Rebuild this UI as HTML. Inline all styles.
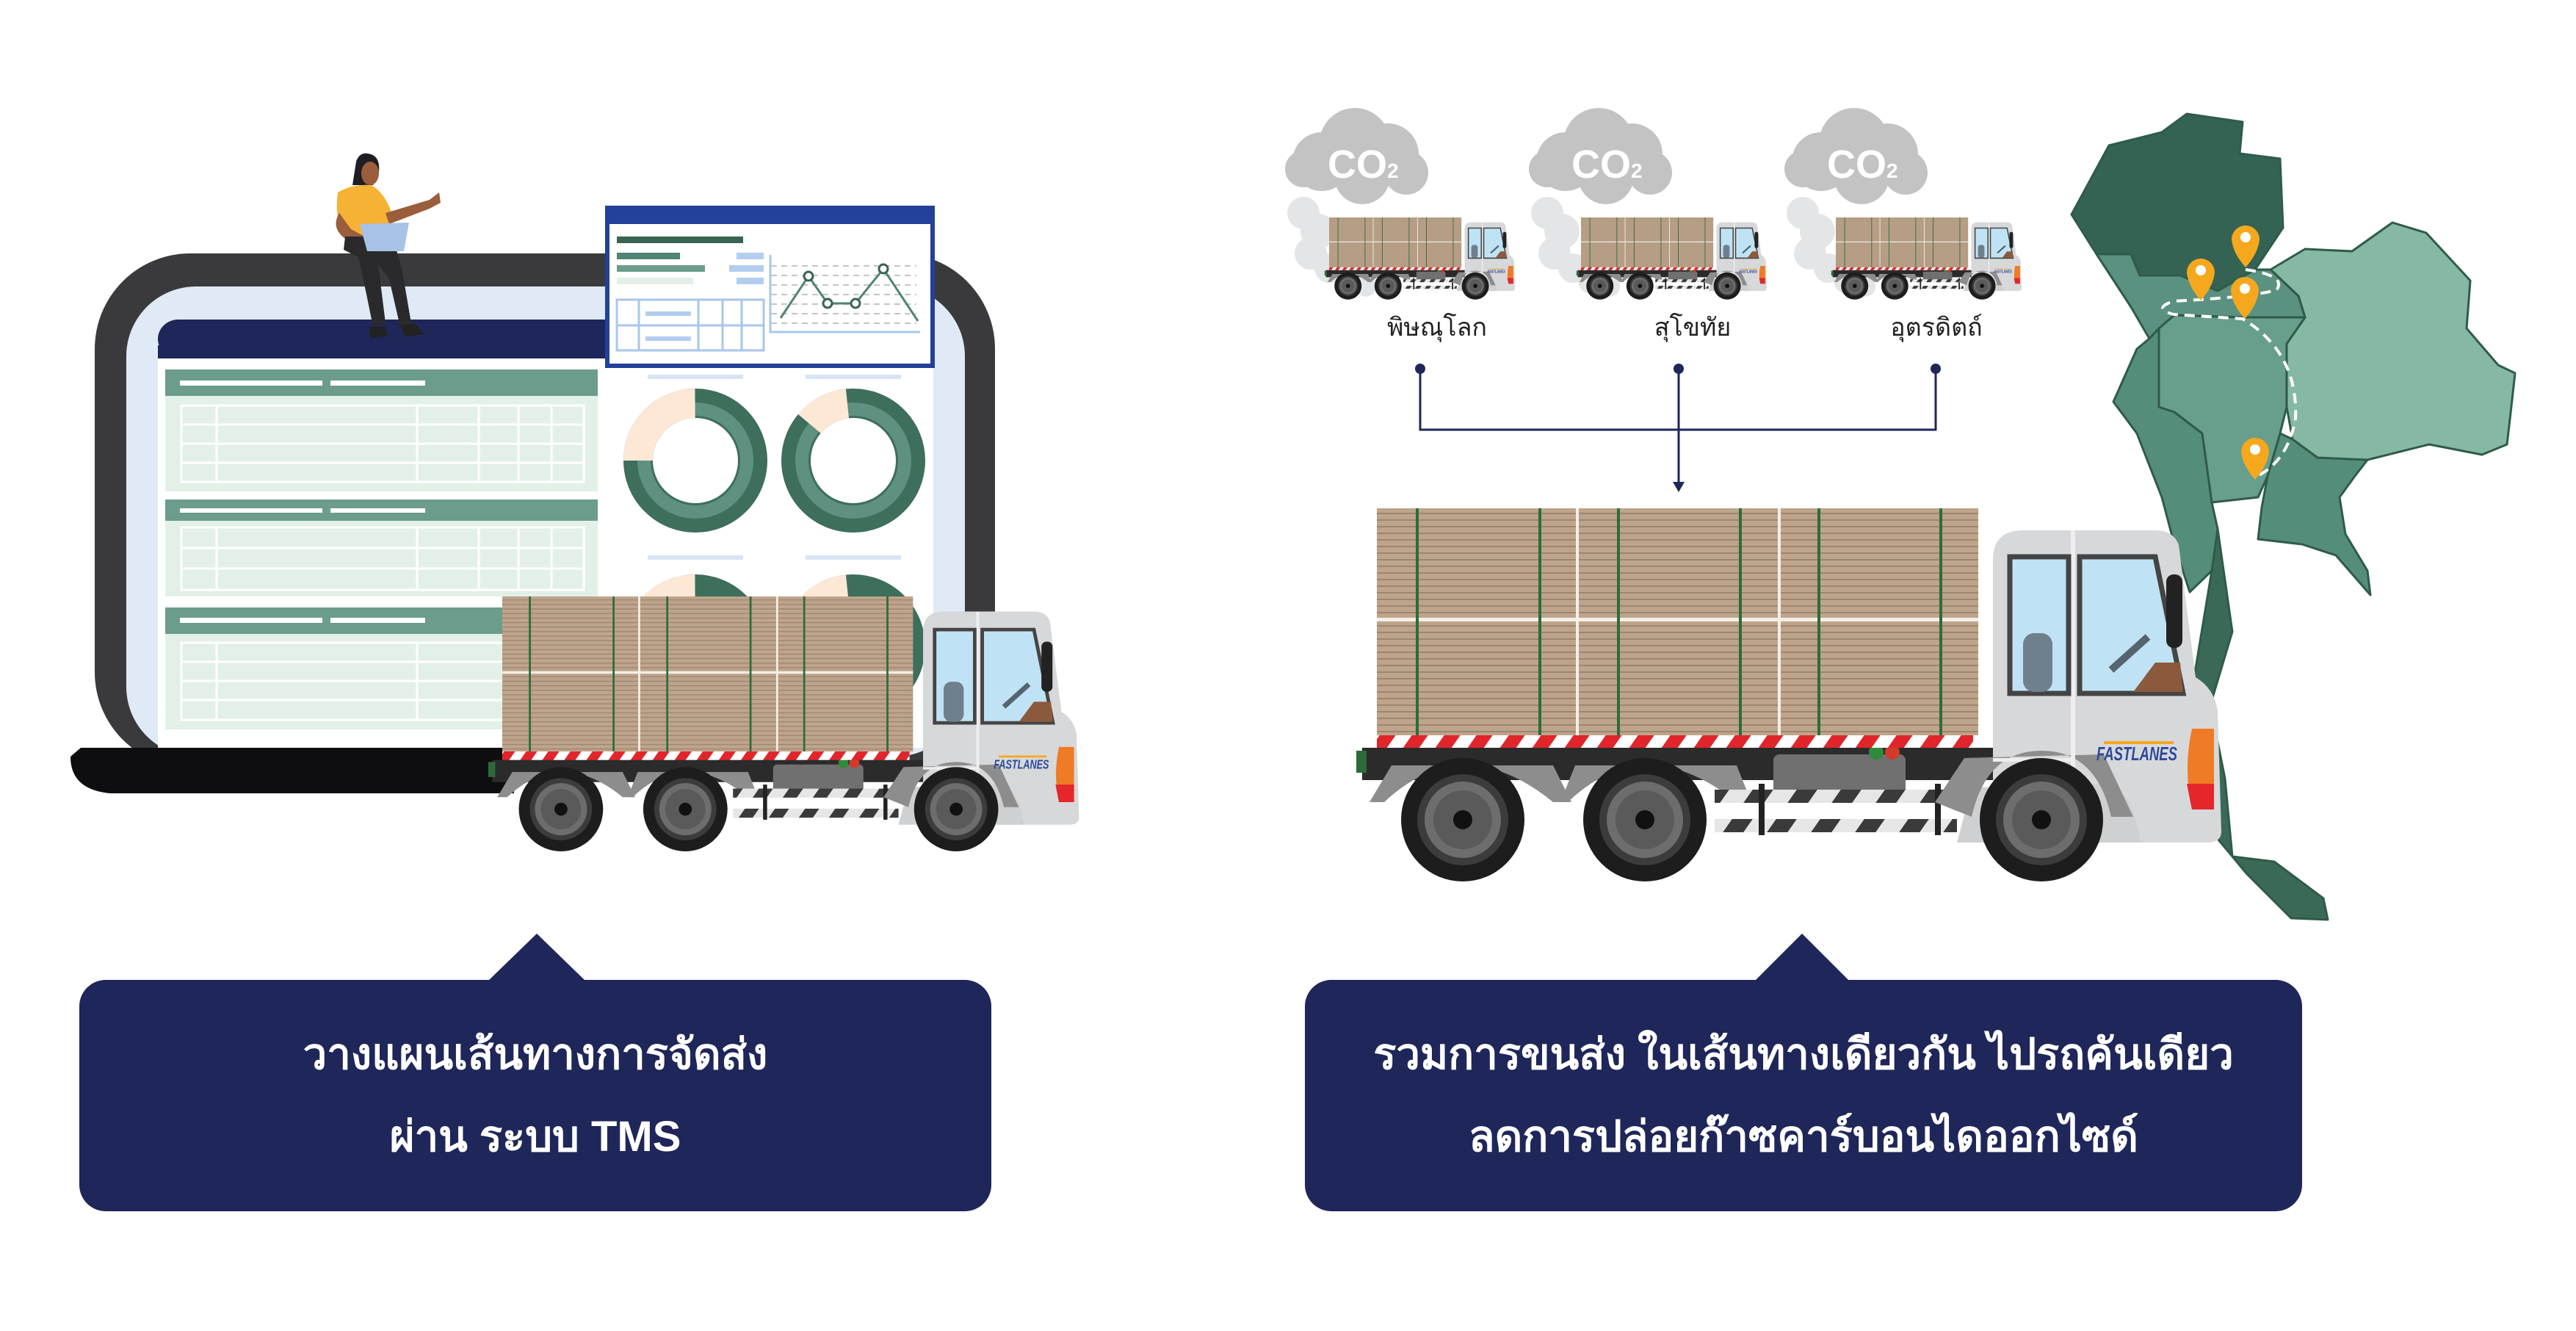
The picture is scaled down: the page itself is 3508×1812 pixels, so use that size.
<!DOCTYPE html>
<html><head><meta charset="utf-8">
<style>
html,body{margin:0;padding:0;background:#fff;}
svg{display:block;}
text{font-family:"Liberation Sans","Noto Sans CJK SC",sans-serif;}
</style></head>
<body>
<svg width="3508" height="1812" viewBox="0 0 3508 1812" xmlns="http://www.w3.org/2000/svg">
<defs>
 <pattern id="wood" patternUnits="userSpaceOnUse" width="20" height="9">
  <rect width="20" height="9" fill="#bda48b"/>
  <rect y="6" width="20" height="2" fill="#9d8670"/>
 </pattern>
 <pattern id="rw" patternUnits="userSpaceOnUse" width="44" height="20" patternTransform="skewX(-35)">
  <rect width="44" height="20" fill="#fff"/>
  <rect width="22" height="20" fill="#e0262b"/>
 </pattern>
 <pattern id="step" patternUnits="userSpaceOnUse" width="60" height="20" patternTransform="skewX(-35)">
  <rect width="60" height="20" fill="#e6e6e6"/>
  <rect width="28" height="20" fill="#3a3a3a"/>
 </pattern>
 <g id="wheel">
  <circle r="84" fill="#1d1d1d"/>
  <circle r="62" fill="#3c3c3c"/>
  <circle r="52" fill="#6d6d6d"/>
  <circle r="40" fill="#5a5a5a"/>
  <circle r="13" fill="#111"/>
 </g>
 <g id="truck">
  <rect x="-20" y="326" width="900" height="44" fill="#2b2b2b"/>
  <rect x="-28" y="330" width="14" height="30" fill="#2e6b3a"/>
  <path d="M-10,400 L20,350 L240,350 L265,400 L240,400 Q117,300 10,400 Z" fill="#8d8d8d"/>
  <path d="M250,400 L270,350 L490,350 L510,400 L490,400 Q365,300 260,400 Z" fill="#8d8d8d"/>
  <rect x="540" y="335" width="180" height="58" rx="8" fill="#707070"/>
  <circle cx="680" cy="332" r="10" fill="#2e8b3a"/><circle cx="702" cy="332" r="10" fill="#d23a2a"/>
  <rect x="460" y="383" width="330" height="18" fill="url(#step)"/>
  <rect x="460" y="423" width="330" height="18" fill="url(#step)"/>
  <rect x="520" y="375" width="8" height="70" fill="#222"/><rect x="760" y="375" width="8" height="70" fill="#222"/>
  <rect x="0" y="0" width="819" height="309" fill="url(#wood)"/>
  <rect x="0" y="149" width="819" height="5" fill="#f4efe8"/>
  <rect x="271" y="0" width="4" height="309" fill="#f4efe8"/>
  <rect x="546" y="0" width="4" height="309" fill="#f4efe8"/>
  <g fill="#2e6b3a">
   <rect x="53" y="0" width="4" height="309"/><rect x="220" y="0" width="4" height="309"/>
   <rect x="327" y="0" width="4" height="309"/><rect x="493" y="0" width="4" height="309"/>
   <rect x="600" y="0" width="4" height="309"/><rect x="766" y="0" width="4" height="309"/>
  </g>
  <rect x="0" y="309" width="812" height="17" fill="url(#rw)"/>
  <path d="M839,455 L839,70 Q839,30 880,30 L1060,30 Q1085,30 1092,50 L1115,230 Q1140,245 1145,275 L1150,440 Q1150,455 1130,455 Z" fill="#d7d8da"/>
  <path d="M790,455 L810,380 L1000,375 Q1030,390 1040,455 Z" fill="#cfd0d2"/>
  <path d="M760,400 L800,340 L990,335 L1030,420 L1000,420 Q980,330 905,330 Q830,330 810,420 Z" fill="#8d8d8d"/>
  <rect x="945" y="30" width="6" height="330" fill="#eeeeee"/>
  <rect x="839" y="340" width="106" height="5" fill="#eee"/>
  <path d="M862,66 L942,66 L942,252 L862,252 Z" fill="#bfe3f5" stroke="#444" stroke-width="7"/>
  <path d="M957,66 L1060,66 L1098,252 L957,252 Z" fill="#bfe3f5" stroke="#444" stroke-width="7"/>
  <rect x="880" y="170" width="40" height="80" rx="15" fill="#6f7f8c"/>
  <path d="M1030,250 L1060,210 L1094,210 L1098,250 Z" fill="#8b5a3c"/>
  <line x1="1000" y1="220" x2="1050" y2="175" stroke="#55646e" stroke-width="10"/>
  <rect x="1075" y="90" width="22" height="100" rx="10" fill="#222"/>
  <path d="M1110,300 L1140,300 L1140,410 L1110,410 Q1098,355 1110,300 Z" fill="#ef7b26"/>
  <path d="M1103,375 L1140,375 L1140,410 L1110,410 Z" fill="#e5262a"/>
  <rect x="990" y="317" width="95" height="4" fill="#f5a81e"/>
  <text x="980" y="343" font-size="26" font-style="italic" font-weight="bold" fill="#2d4a9a" textLength="110" lengthAdjust="spacingAndGlyphs">FASTLANES</text>
  <use href="#wheel" x="117" y="424"/>
  <use href="#wheel" x="365" y="424"/>
  <use href="#wheel" x="905" y="424"/>
 </g>
 <g id="cloud" fill="#c3c3c4">
  <circle cx="-45" cy="10" r="40"/><circle cx="0" cy="-15" r="48"/><circle cx="45" cy="0" r="42"/>
  <circle cx="70" cy="25" r="30"/><circle cx="10" cy="30" r="38"/><circle cx="-70" cy="20" r="25"/>
 </g>
 <g id="smoke" fill="#e4e5e6">
  <circle cx="0" cy="0" r="22"/><circle cx="20" cy="25" r="24"/><circle cx="10" cy="55" r="22"/>
  <circle cx="35" cy="75" r="20"/><circle cx="60" cy="92" r="18"/><circle cx="85" cy="100" r="14"/>
 </g>
</defs>

<rect x="129" y="345" width="1226" height="700" rx="130" fill="#3a3a3c"/>
<rect x="172" y="390" width="1142" height="640" rx="95" fill="#dfeaf6"/>
<rect x="215" y="435" width="1056" height="53" rx="28" fill="#1f2659"/>
<rect x="215" y="470" width="1056" height="18" fill="#1f2659"/>
<rect x="215" y="488" width="1056" height="530" fill="#fff"/>
<path d="M110,1018 L700,1018 L700,1080 L150,1080 Q96,1075 96,1030 Z" fill="#0e0e10"/>

<g>
 <rect x="225" y="503" width="589" height="36" fill="#6b9c8c"/>
 <rect x="225" y="539" width="589" height="130" fill="#e3f0e8"/>
 <rect x="245" y="518" width="194" height="7" fill="#fff"/><rect x="450" y="518" width="129" height="7" fill="#fff"/>
 <g stroke="#fff" stroke-width="3" fill="none">
  <rect x="247" y="552" width="548" height="104"/>
  <line x1="295" y1="552" x2="295" y2="656"/><line x1="568" y1="552" x2="568" y2="656"/><line x1="652" y1="552" x2="652" y2="656"/><line x1="706" y1="552" x2="706" y2="656"/><line x1="751" y1="552" x2="751" y2="656"/>
  <line x1="247" y1="578" x2="795" y2="578"/><line x1="247" y1="604" x2="795" y2="604"/><line x1="247" y1="630" x2="795" y2="630"/>
 </g>
 <rect x="225" y="680" width="589" height="29" fill="#6b9c8c"/>
 <rect x="225" y="709" width="589" height="103" fill="#e3f0e8"/>
 <rect x="245" y="692" width="194" height="6" fill="#fff"/><rect x="450" y="692" width="129" height="6" fill="#fff"/>
 <g stroke="#fff" stroke-width="3" fill="none">
  <rect x="247" y="718" width="548" height="85"/>
  <line x1="295" y1="718" x2="295" y2="803"/><line x1="568" y1="718" x2="568" y2="803"/><line x1="652" y1="718" x2="652" y2="803"/><line x1="706" y1="718" x2="706" y2="803"/><line x1="751" y1="718" x2="751" y2="803"/>
  <line x1="247" y1="746" x2="795" y2="746"/><line x1="247" y1="774" x2="795" y2="774"/>
 </g>
 <rect x="225" y="827" width="589" height="36" fill="#6b9c8c"/>
 <rect x="225" y="863" width="589" height="130" fill="#e3f0e8"/>
 <rect x="245" y="841" width="194" height="7" fill="#fff"/><rect x="450" y="841" width="129" height="7" fill="#fff"/>
 <g stroke="#fff" stroke-width="3" fill="none">
  <rect x="247" y="875" width="548" height="105"/>
  <line x1="295" y1="875" x2="295" y2="980"/><line x1="568" y1="875" x2="568" y2="980"/>
  <line x1="247" y1="901" x2="795" y2="901"/><line x1="247" y1="927" x2="795" y2="927"/><line x1="247" y1="953" x2="795" y2="953"/>
 </g>
</g>
<g fill="none">
 <rect x="882" y="510" width="130" height="6" fill="#d7e4f3"/><rect x="1097" y="510" width="130" height="6" fill="#d7e4f3"/>
 <rect x="882" y="756" width="130" height="6" fill="#d7e4f3"/><rect x="1097" y="756" width="130" height="6" fill="#d7e4f3"/>
 <g transform="translate(947,627)">
  <circle r="78" stroke="#3e6e5c" stroke-width="40"/>
  <circle r="70" stroke="#5e917f" stroke-width="18"/>
  <circle r="78" stroke="#fde8d6" stroke-width="40" stroke-dasharray="122 1000" transform="rotate(180)"/>
 </g>
 <g transform="translate(1162,627)">
  <circle r="78" stroke="#3e6e5c" stroke-width="40"/>
  <circle r="70" stroke="#5e917f" stroke-width="18"/>
  <circle r="78" stroke="#fde8d6" stroke-width="40" stroke-dasharray="60 1000" transform="rotate(220)"/>
 </g>
 <g transform="translate(947,880)">
  <circle r="78" stroke="#3e6e5c" stroke-width="40"/>
  <circle r="78" stroke="#fde8d6" stroke-width="40" stroke-dasharray="122 1000" transform="rotate(180)"/>
 </g>
 <g transform="translate(1162,880)">
  <circle r="78" stroke="#3e6e5c" stroke-width="40"/>
  <circle r="78" stroke="#fde8d6" stroke-width="40" stroke-dasharray="60 1000" transform="rotate(220)"/>
 </g>
</g>
<rect x="827" y="283" width="443" height="215" fill="#fff" stroke="#23409a" stroke-width="6"/>
<rect x="824" y="280" width="449" height="25" rx="5" fill="#23409a"/>
<rect x="840" y="322" width="172" height="9" fill="#386452"/>
<rect x="840" y="344" width="86" height="9" fill="#4f8572"/>
<rect x="840" y="361" width="120" height="9" fill="#6b9c8c"/>
<rect x="840" y="378" width="104" height="9" fill="#e3f0e8"/>
<rect x="1003" y="344" width="37" height="9" fill="#b3cdee"/>
<rect x="993" y="361" width="47" height="9" fill="#b3cdee"/>
<rect x="1003" y="378" width="37" height="9" fill="#b3cdee"/>
<g stroke="#a9c6ec" stroke-width="3" fill="none">
 <rect x="840" y="408" width="200" height="69"/>
 <line x1="870" y1="408" x2="870" y2="477"/><line x1="951" y1="408" x2="951" y2="477"/><line x1="984" y1="408" x2="984" y2="477"/><line x1="1010" y1="408" x2="1010" y2="477"/>
 <line x1="840" y1="443" x2="1040" y2="443"/>
 <polyline points="1049,347 1049,452 1253,452"/>
</g>
<rect x="879" y="424" width="62" height="6" fill="#b3cdee"/><rect x="879" y="458" width="62" height="6" fill="#b3cdee"/>
<g stroke="#c4c4c4" stroke-width="2" stroke-dasharray="8 6">
 <line x1="1050" y1="362" x2="1248" y2="362"/><line x1="1050" y1="375" x2="1248" y2="375"/><line x1="1050" y1="388" x2="1248" y2="388"/><line x1="1050" y1="401" x2="1248" y2="401"/><line x1="1050" y1="414" x2="1248" y2="414"/><line x1="1050" y1="427" x2="1248" y2="427"/><line x1="1050" y1="440" x2="1248" y2="440"/>
</g>
<polyline points="1063,433 1101,376 1127,413 1165,413 1203,366 1250,437" fill="none" stroke="#4f8572" stroke-width="3"/>
<g fill="#fff" stroke="#386452" stroke-width="3">
 <circle cx="1101" cy="376" r="6"/><circle cx="1127" cy="413" r="6"/><circle cx="1165" cy="413" r="6"/><circle cx="1203" cy="366" r="6"/>
</g>
<g>
 <path d="M485,220 Q490,205 505,210 Q520,215 515,240 L508,252 L480,252 Z" fill="#1e1e24"/>
 <ellipse cx="504" cy="236" rx="12" ry="16" fill="#9a5e3d"/>
 <path d="M460,262 Q480,250 505,252 Q525,262 535,295 L530,322 L470,322 Q455,300 460,262 Z" fill="#f6b235"/>
 <path d="M525,290 L585,272 L598,262 L600,276 L585,284 L530,305 Z" fill="#9a5e3d"/>
 <path d="M462,290 Q450,310 470,325 L510,340 L512,330 L478,312 Z" fill="#9a5e3d"/>
 <path d="M470,322 L535,322 L548,370 L560,440 L545,445 L530,380 L515,360 L525,440 L508,445 Q495,380 488,350 L468,340 Z" fill="#2a2a2c"/>
 <path d="M490,305 L557,303 L550,342 L500,342 Z" fill="#a7c2e6"/>
 <path d="M503,445 L525,445 L528,458 L505,460 Z" fill="#222"/>
 <path d="M545,443 L565,440 L578,455 L552,458 Z" fill="#222"/>
</g>
<use href="#truck" transform="translate(684,812) scale(0.683)"/>

<path d="M664,1336 L731,1271 L798,1336 Z" fill="#1f2659"/>
<rect x="108" y="1334" width="1242" height="315" rx="36" fill="#1f2659"/>
<text x="729" y="1455" font-size="58" font-weight="bold" fill="#fff" text-anchor="middle">วางแผนเส้นทางการจัดส่ง</text>
<text x="729" y="1567" font-size="58" font-weight="bold" fill="#fff" text-anchor="middle">ผ่าน ระบบ TMS</text>

<g stroke="#2f5b49" stroke-width="3" stroke-linejoin="round">
 <path d="M3012,777 L3020,720 L3040,860 L3010,960 L3030,1060 L3040,1166 L3097,1173 L3164,1223 L3170,1252 L3120,1250 L3060,1190 L3010,1130 L2995,1040 L2985,940 Z" fill="#3a6a57"/>
 <path d="M2927,461 L2940,447 L2940,554 L2961,561 L2999,590 L3012,684 L3020,720 L3012,777 L2982,806 L2961,741 L2944,677 L2910,590 L2878,547 L2910,475 Z" fill="#558d7b"/>
 <path d="M3088,648 L3105,590 L3122,598 L3156,623 L3224,626 L3207,648 L3186,677 L3194,727 L3224,777 L3228,810 L3181,756 L3135,741 L3075,734 L3080,691 Z" fill="#558d7b"/>
 <path d="M3092,367 L3139,339 L3203,342 L3258,303 L3304,317 L3364,382 L3359,447 L3402,497 L3425,508 L3419,562 L3414,605 L3380,619 L3308,605 L3224,626 L3156,623 L3122,598 L3114,554 L3114,468 L3139,432 L3130,403 Z" fill="#86b9a5"/>
 <path d="M2940,447 L2961,429 L3054,432 L3139,432 L3114,468 L3114,554 L3105,590 L3088,648 L3075,677 L3012,684 L2999,590 L2961,561 L2940,554 Z" fill="#679e8c"/>
 <path d="M2855,346 L2902,346 L2914,375 L2969,375 L3020,396 L3071,367 L3092,367 L3130,403 L3139,432 L3054,432 L2961,429 L2940,447 L2927,461 L2902,418 Z" fill="#5b9180"/>
 <path d="M2821,292 L2872,198 L2944,180 L2978,155 L3054,166 L3050,209 L3105,216 L3109,310 L3071,367 L3020,396 L2969,375 L2914,375 L2902,346 L2855,346 Z" fill="#356353"/>
</g>
<path d="M3058,367 Q3115,375 3100,395 Q3060,405 2960,410 Q2930,420 2960,428 L3054,434 Q3130,480 3126,570 Q3115,630 3070,650" fill="none" stroke="#fff" stroke-width="4" stroke-dasharray="14 9"/>
<g fill="#f5a81e">
 <path d="M3039,326 A19,19 0 1,1 3077,326 Q3075,345 3058,364 Q3041,345 3039,326 Z"/>
 <path d="M2978,371 A19,19 0 1,1 3016,371 Q3014,390 2997,409 Q2980,390 2978,371 Z"/>
 <path d="M3038,396 A19,19 0 1,1 3076,396 Q3074,415 3057,434 Q3040,415 3038,396 Z"/>
 <path d="M3052,615 A19,19 0 1,1 3090,615 Q3088,634 3071,653 Q3054,634 3052,615 Z"/>
</g>
<g fill="#fff"><circle cx="3058" cy="323" r="7"/><circle cx="2997" cy="368" r="7"/><circle cx="3057" cy="393" r="7"/><circle cx="3071" cy="612" r="7"/></g>

<use href="#smoke" x="1775" y="290"/>
<use href="#smoke" x="2107" y="290"/>
<use href="#smoke" x="2455" y="290"/>
<use href="#truck" transform="translate(1810,296) scale(0.22)"/>
<use href="#truck" transform="translate(2153,296) scale(0.22)"/>
<use href="#truck" transform="translate(2500,296) scale(0.22)"/>
<use href="#cloud" x="1845" y="210"/>
<use href="#cloud" x="2177" y="210"/>
<use href="#cloud" x="2525" y="210"/>
<g fill="#fff" font-weight="bold" font-size="54">
 <text x="1808" y="242">CO<tspan font-size="28">2</tspan></text>
 <text x="2140" y="242">CO<tspan font-size="28">2</tspan></text>
 <text x="2488" y="242">CO<tspan font-size="28">2</tspan></text>
</g>
<g font-size="34" fill="#222" text-anchor="middle">
 <text x="1957" y="457">พิษณุโลก</text>
 <text x="2305" y="457">สุโขทัย</text>
 <text x="2637" y="457">อุตรดิตถ์</text>
</g>
<g stroke="#1f2659" stroke-width="3" fill="none">
 <polyline points="1934,502 1934,585 2636,585 2636,502"/>
 <line x1="2286" y1="502" x2="2286" y2="660"/>
</g>
<g fill="#1f2659">
 <circle cx="1934" cy="502" r="7"/><circle cx="2286" cy="502" r="7"/><circle cx="2636" cy="502" r="7"/>
 <path d="M2278,656 L2294,656 L2286,670 Z"/>
</g>
<use href="#truck" transform="translate(1875,692)"/>

<path d="M2389,1336 L2454,1271 L2519,1336 Z" fill="#1f2659"/>
<rect x="1777" y="1334" width="1358" height="315" rx="36" fill="#1f2659"/>
<text x="2456" y="1455" font-size="58" font-weight="bold" fill="#fff" text-anchor="middle">รวมการขนส่ง ในเส้นทางเดียวกัน ไปรถคันเดียว</text>
<text x="2456" y="1567" font-size="58" font-weight="bold" fill="#fff" text-anchor="middle">ลดการปล่อยก๊าซคาร์บอนไดออกไซด์</text>
</svg>
</body></html>
